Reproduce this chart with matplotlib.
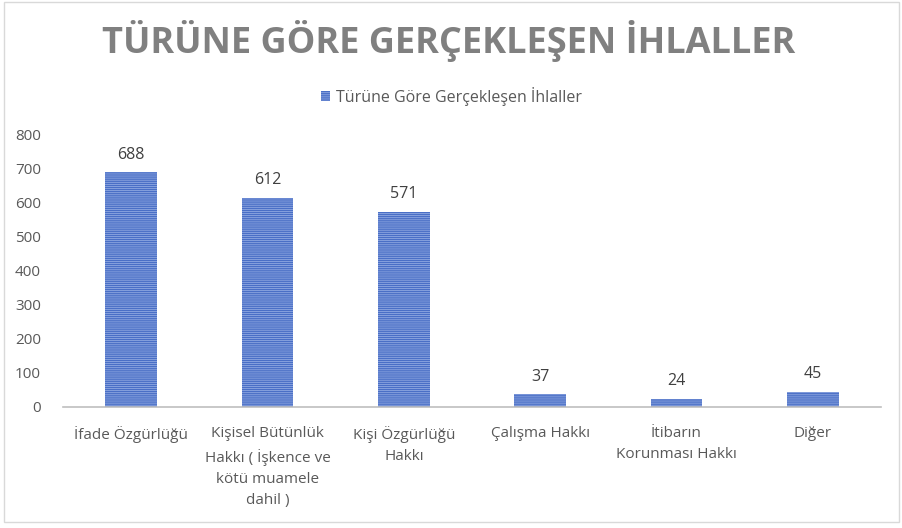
import matplotlib
matplotlib.use("Agg")
import matplotlib.pyplot as plt
from matplotlib.patches import Rectangle

categories = ["İfade Özgürlüğü",
              "Kişisel Bütünlük\nHakkı ( İşkence ve\nkötü muamele\ndahil )",
              "Kişi Özgürlüğü\nHakkı",
              "Çalışma Hakkı",
              "İtibarın\nKorunması Hakkı",
              "Diğer"]
values = [688, 612, 571, 37, 24, 45]
series_name = "Türüne Göre Gerçekleşen İhlaller"
title = "TÜRÜNE GÖRE GERÇEKLEŞEN İHLALLER"
yticks = [0, 100, 200, 300, 400, 500, 600, 700, 800]

plt.rcParams['font.family'] = ['Open Sans', 'DejaVu Sans']
plt.rcParams['hatch.color'] = '#9db3e6'
plt.rcParams['hatch.linewidth'] = 0.5

fig = plt.figure(figsize=(9.03, 5.28), dpi=100)
ax = fig.add_axes([0.0698, 0.2292, 0.9058, 0.517])

x = list(range(len(categories)))
bars = ax.bar(x, values, width=0.38, color='#4a6fc6', hatch='-' * 8,
              linewidth=0, label=series_name)
for xi, v in zip(x, values):
    ax.annotate(str(v), (xi, v), xytext=(0, 7), textcoords='offset points',
                ha='center', va='bottom', fontsize=11.5, color='#404040')

ax.set_xlim(-0.5, len(categories) - 0.5)
ax.set_ylim(0, 800)
ax.set_yticks(yticks)
ax.set_xticks(x)
ax.set_xticklabels(categories, fontsize=11, color='#595959', linespacing=1.55)
ax.tick_params(axis='y', length=0, labelsize=11, labelcolor='#595959', pad=16)
ax.tick_params(axis='x', length=0, pad=14)
for s in ['top', 'right', 'left']:
    ax.spines[s].set_visible(False)
ax.spines['bottom'].set_color('#bfbfbf')
ax.spines['bottom'].set_linewidth(1.2)

fig.text(0.497, 0.922, title, ha='center', va='center', fontsize=26,
         fontweight='bold', color='#808080')
leg = fig.legend(handles=[bars], labels=[series_name], loc='center',
                 bbox_to_anchor=(0.5, 0.818), frameon=False, fontsize=11.5,
                 handlelength=0.6, handleheight=0.6, handletextpad=0.35)
for t in leg.get_texts():
    t.set_color('#595959')

fig.patches.append(Rectangle((0.004, 0.012), 0.992, 0.984, transform=fig.transFigure,
                             fill=False, edgecolor='#d9d9d9', linewidth=1))

fig.savefig('out.png', dpi=100)
